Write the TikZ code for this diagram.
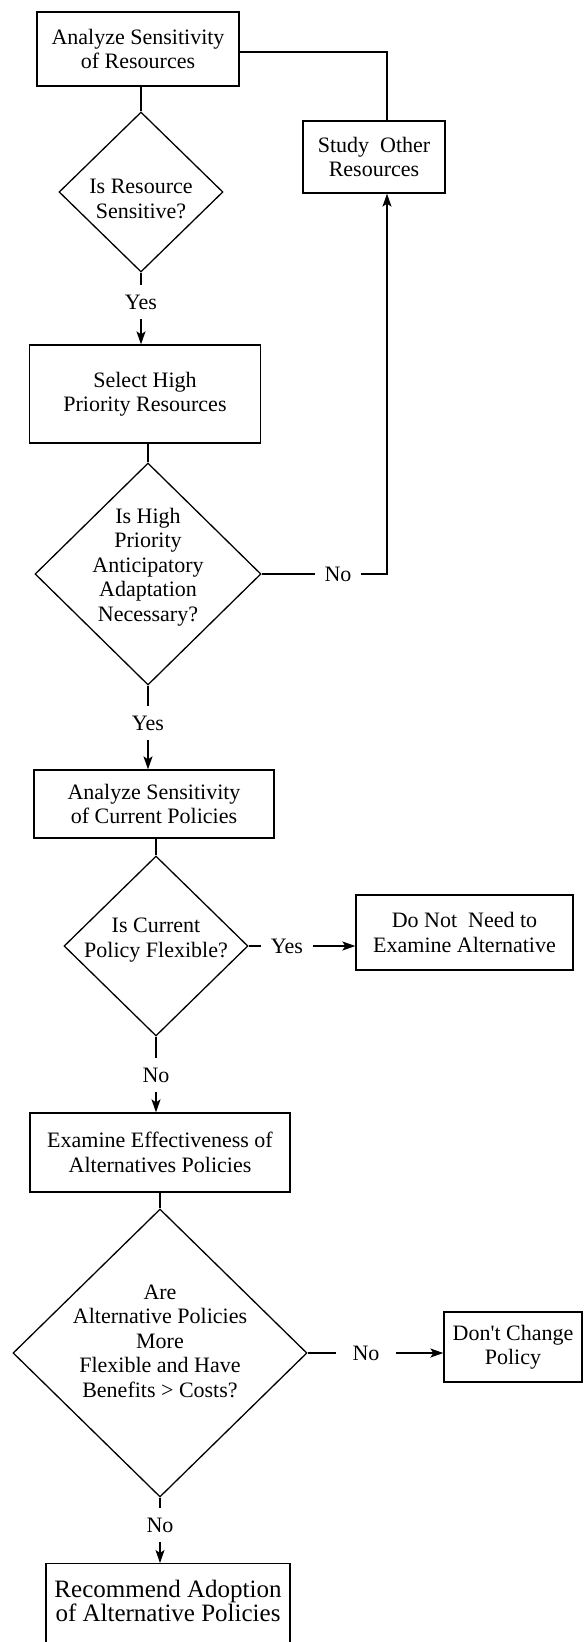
\documentclass[tikz,border=0pt]{standalone}
\usepackage{fontspec}
\setmainfont{Liberation Serif}
\usetikzlibrary{arrows.meta,shapes.geometric}
\begin{document}
\begin{tikzpicture}[x=1pt,y=-1pt,
  line width=1.3pt,
  every node/.style={font=\fontsize{22}{24.5}\selectfont},
  box/.style={draw, rectangle, align=center, inner sep=0pt},
  dia/.style={draw, diamond, inner sep=0pt},
  txt/.style={align=center, inner sep=0pt},
  lbl/.style={inner sep=9pt},
  arr/.style={-{Stealth[length=13pt,width=9pt,inset=3pt]}},
]
\useasboundingbox (0,0) rectangle (584,1642);
\clip (0,0) rectangle (584,1642);

% process boxes and decisions
\node[box, minimum width=202, minimum height=74] (b1) at (138,49) {Analyze Sensitivity\\of Resources};
\node[box, minimum width=142, minimum height=72] (so) at (374,157) {Study\ \ Other\\Resources};
\node[dia, minimum width=164, minimum height=160] (d1) at (141,192) {};
\node[txt] (t1) at (141,199) {Is Resource\\Sensitive?};
\node[lbl] (y1) at (141,302) {Yes};
\node[box, minimum width=231, minimum height=98] (b2) at (145,394) {Select High\\Priority Resources};
\node[dia, minimum width=226, minimum height=222] (d2) at (148,574) {};
\node[txt] (t2) at (148,567) {Is High\\Priority\\Anticipatory\\Adaptation\\Necessary?};
\node[lbl] (n2) at (338,574) {No};
\node[lbl] (y2) at (148,723) {Yes};
\node[box, minimum width=240, minimum height=68] (b3) at (154,804) {Analyze Sensitivity\\of Current Policies};
\node[dia, minimum width=184, minimum height=180] (d3) at (156,946) {};
\node[txt] (t3) at (156,940) {Is Current\\Policy Flexible?};
\node[lbl] (y3) at (287,946) {Yes};
\node[box, minimum width=217, minimum height=75] (b4) at (464.5,932.5) {Do Not\ \ Need to\\Examine Alternative};
\node[lbl] (n3) at (156,1075) {No};
\node[box, minimum width=260, minimum height=79] (b5) at (160,1152.5) {Examine Effectiveness of\\Alternatives Policies};
\node[dia, minimum width=294, minimum height=288] (d5) at (160,1353) {};
\node[txt] (t5) at (160,1341) {Are\\Alternative Policies\\More\\Flexible and Have\\Benefits > Costs?};
\node[lbl, inner xsep=16pt] (n5) at (366,1353) {No};
\node[box, minimum width=138, minimum height=70] (b6) at (513,1347) {Don\textquotesingle t Change\\Policy};
\node[lbl] (n5b) at (160,1525) {No};
\node[box, minimum width=244, minimum height=140, anchor=north] (b7) at (168,1563) {};
\node[txt, font=\fontsize{25}{20}\selectfont] (t7) at (168,1601) {Recommend Adoption\\of Alternative Policies};

% loop-back corners
\coordinate (c1) at (387,52);
\coordinate (c2) at (387,574);

% connectors
\draw (d1.north |- b1.south) -- (d1.north);
\draw (b1.east |- c1) -- (c1) -- (so.north -| c1);
\draw (d1.south) -- (y1.north);
\draw[arr] (y1.south) -- (y1.south |- b2.north);
\draw (d2.north |- b2.south) -- (d2.north);
\draw (d2.east) -- (n2.west);
\draw[arr] (n2.east) -- (c2) -- (so.south -| c2);
\draw (d2.south) -- (y2.north);
\draw[arr] (y2.south) -- (y2.south |- b3.north);
\draw (d3.north |- b3.south) -- (d3.north);
\draw (d3.east) -- (y3.west);
\draw[arr] (y3.east) -- (y3.east -| b4.west);
\draw (d3.south) -- (n3.north);
\draw[arr] (n3.south) -- (n3.south |- b5.north);
\draw (d5.north |- b5.south) -- (d5.north);
\draw (d5.east) -- (n5.west);
\draw[arr] (n5.east) -- (n5.east -| b6.west);
\draw (d5.south) -- (n5b.north);
\draw[arr] (n5b.south) -- (n5b.south |- b7.north);
\end{tikzpicture}
\end{document}
